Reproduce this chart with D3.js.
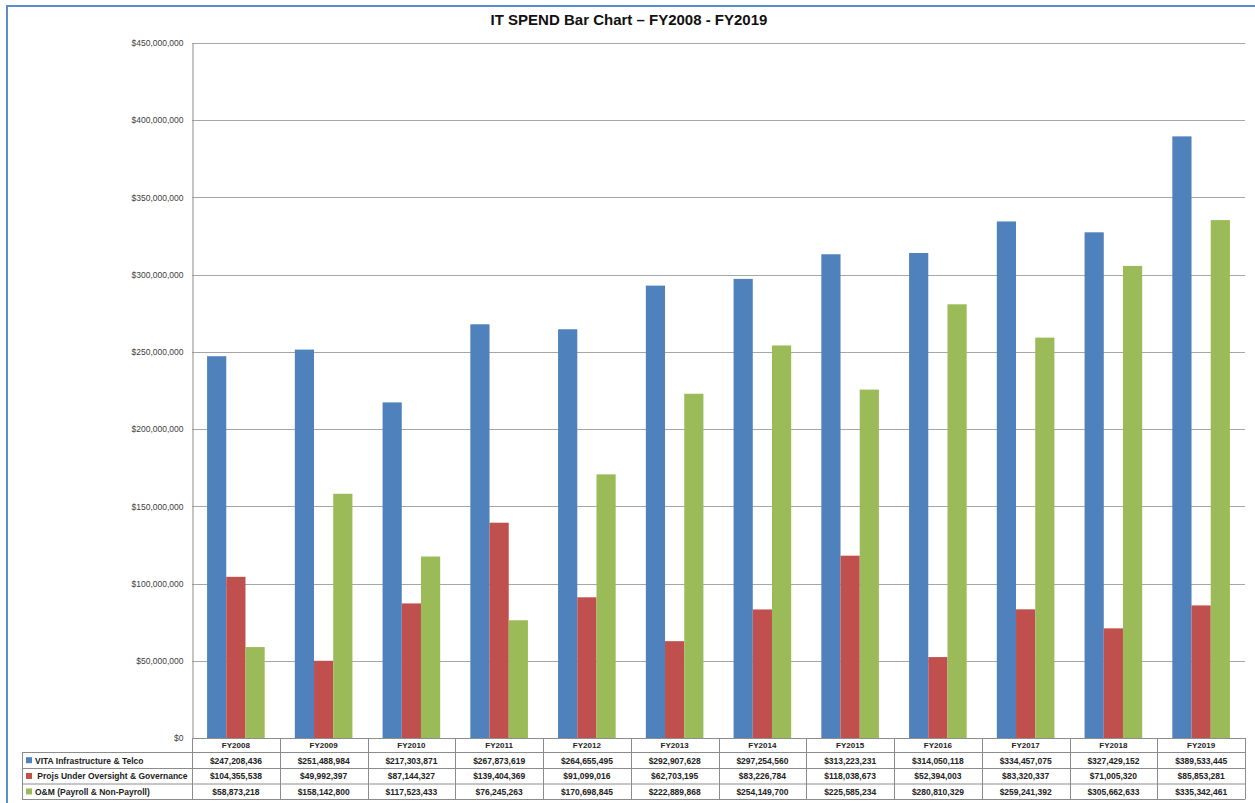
<!DOCTYPE html>
<html>
<head>
<meta charset="utf-8">
<script src="https://cdn.jsdelivr.net/npm/d3@7"></script>
<style>
  html, body { margin: 0; padding: 0; background: #fff; }
  svg { display: block; }
  text { font-family: "Liberation Sans", Arial, sans-serif; }
</style>
</head>
<body>
<svg id="chart" width="1255" height="803"></svg>
<script>
const categories = ["FY2008","FY2009","FY2010","FY2011","FY2012","FY2013","FY2014","FY2015","FY2016","FY2017","FY2018","FY2019"];
const seriesNames = ["VITA Infrastructure & Telco", " Projs Under Oversight & Governance", "O&M (Payroll & Non-Payroll)"];
const vitaValues = [247208436, 251488984, 217303871, 267873619, 264655495, 292907628, 297254560, 313223231, 314050118, 334457075, 327429152, 389533445];
const projsValues = [104355538, 49992397, 87144327, 139404369, 91099016, 62703195, 83226784, 118038673, 52394003, 83320337, 71005320, 85853281];
const omValues = [58873218, 158142800, 117523433, 76245263, 170698845, 222889868, 254149700, 225585234, 280810329, 259241392, 305662633, 335342461];
const colors = ["#4f81bd", "#c0504d", "#9bbb59"];
const yTicks = [0, 50e6, 100e6, 150e6, 200e6, 250e6, 300e6, 350e6, 400e6, 450e6];
const title = "IT SPEND Bar Chart \u2013 FY2008 - FY2019";

const series = [vitaValues, projsValues, omValues];
const svg = d3.select("#chart");

// outer frame
svg.append("rect").attr("x", 7).attr("y", 6).attr("width", 1300).attr("height", 900)
  .attr("fill", "#fff").attr("stroke", "#5b8ccf").attr("stroke-width", 2);

const plotL = 192, plotR = 1245, plotT = 43, plotB = 738;
const x = d3.scaleBand().domain(categories).range([plotL, plotR]);
const y = d3.scaleLinear().domain([0, 450e6]).range([plotB, plotT]);
const inner = d3.scaleBand().domain([0,1,2]).range([0, x.bandwidth()]).paddingOuter(0.785).paddingInner(0);

// title
svg.append("text").attr("x", 629).attr("y", 25).attr("text-anchor", "middle")
  .attr("font-size", 15).attr("font-weight", "bold").attr("fill", "#111").text(title);

// gridlines
svg.append("g").selectAll("line").data(yTicks.filter(d => d > 0)).join("line")
  .attr("x1", plotL).attr("x2", plotR).attr("y1", d => Math.round(y(d)) + 0.5).attr("y2", d => Math.round(y(d)) + 0.5)
  .attr("stroke", "#a6a6a6").attr("stroke-width", 1);

// y axis
const yAxis = d3.axisLeft(y).tickValues(yTicks).tickSize(0).tickPadding(9)
  .tickFormat(d => "$" + d3.format(",")(d));
const yg = svg.append("g").attr("transform", `translate(${plotL + 0.5},0)`).call(yAxis);
yg.select(".domain").attr("stroke", "#8c8c8c");
yg.selectAll("text").attr("font-size", 8.5).attr("fill", "#404040").attr("font-family", "Liberation Sans, Arial, sans-serif");

// bars
const g = svg.append("g");
series.forEach((vals, si) => {
  g.append("g").selectAll("rect").data(vals).join("rect")
    .attr("x", (d, i) => x(categories[i]) + inner(si))
    .attr("width", inner.bandwidth())
    .attr("y", d => y(d))
    .attr("height", d => y(0) - y(d))
    .attr("fill", colors[si]);
});

// data table
const rowH = [plotB, 752.5, 768.5, 784, 799.5];
const tableL = 22;
const tg = svg.append("g");
const lineColor = "#8c8c8c";
tg.append("line").attr("x1", plotL).attr("x2", plotR).attr("y1", rowH[0] + 0.5).attr("y2", rowH[0] + 0.5).attr("stroke", lineColor);
for (let r = 1; r < rowH.length; r++) {
  tg.append("line").attr("x1", tableL).attr("x2", plotR).attr("y1", rowH[r]).attr("y2", rowH[r]).attr("stroke", lineColor);
}
tg.append("line").attr("x1", tableL + 0.5).attr("x2", tableL + 0.5).attr("y1", rowH[1]).attr("y2", rowH[4]).attr("stroke", lineColor);
const colEdges = categories.map(c => x(c)).concat([plotR]);
tg.selectAll("line.v").data(colEdges).join("line").attr("class", "v")
  .attr("x1", d => Math.round(d) + 0.5).attr("x2", d => Math.round(d) + 0.5)
  .attr("y1", rowH[0]).attr("y2", rowH[4]).attr("stroke", lineColor);

tg.selectAll("text.h").data(categories).join("text").attr("class", "h")
  .attr("x", d => x(d) + x.bandwidth() / 2).attr("y", (rowH[0] + rowH[1]) / 2 + 3.2)
  .attr("text-anchor", "middle").attr("font-size", 8).attr("font-weight", "bold").attr("fill", "#222").text(d => d);

const fmt = d => "$" + d3.format(",")(d);
series.forEach((vals, si) => {
  const cy = (rowH[si + 1] + rowH[si + 2]) / 2 + 3.2;
  tg.append("g").selectAll("text").data(vals).join("text")
    .attr("x", (d, i) => x(categories[i]) + x.bandwidth() / 2).attr("y", cy)
    .attr("text-anchor", "middle").attr("font-size", 8.5).attr("font-weight", "bold").attr("fill", "#222")
    .text(fmt);
  tg.append("rect").attr("x", 26).attr("y", cy - 6.5).attr("width", 6).attr("height", 6).attr("fill", colors[si]);
  tg.append("text").attr("x", 35).attr("y", cy).attr("font-size", 8.5).attr("font-weight", "bold").attr("fill", "#222")
    .attr("xml:space", "preserve").style("white-space", "pre").text(seriesNames[si]);
});
</script>
</body>
</html>
